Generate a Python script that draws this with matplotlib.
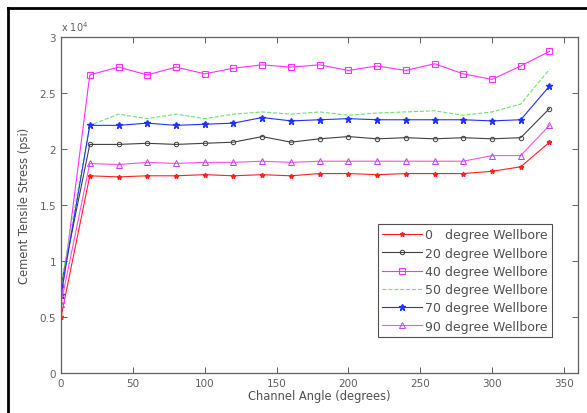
import numpy as np
import matplotlib
matplotlib.use('Agg')
import matplotlib.pyplot as plt
from matplotlib.lines import Line2D

# channel angle (degrees)
angle = [0, 20, 40, 60, 80, 100, 120, 140, 160, 180, 200, 220, 240, 260, 280, 300, 320, 340]

# cement tensile stress, x 10^4 psi
wb_0 = [0.50, 1.76, 1.75, 1.76, 1.76, 1.77, 1.76, 1.77, 1.76, 1.78, 1.78, 1.77, 1.78, 1.78, 1.78, 1.80, 1.84, 2.06]
wb_20 = [0.78, 2.04, 2.04, 2.05, 2.04, 2.05, 2.06, 2.11, 2.06, 2.09, 2.11, 2.09, 2.10, 2.09, 2.10, 2.09, 2.10, 2.36]
wb_40 = [0.65, 2.66, 2.73, 2.66, 2.73, 2.67, 2.72, 2.75, 2.73, 2.75, 2.70, 2.74, 2.70, 2.76, 2.67, 2.62, 2.74, 2.87]
wb_50 = [0.80, 2.21, 2.31, 2.27, 2.31, 2.27, 2.31, 2.33, 2.31, 2.33, 2.30, 2.32, 2.33, 2.34, 2.30, 2.33, 2.40, 2.71]
wb_70 = [0.70, 2.21, 2.21, 2.23, 2.21, 2.22, 2.23, 2.28, 2.25, 2.26, 2.27, 2.26, 2.26, 2.26, 2.26, 2.25, 2.26, 2.56]
wb_90 = [0.62, 1.87, 1.86, 1.88, 1.87, 1.88, 1.88, 1.89, 1.88, 1.89, 1.89, 1.89, 1.89, 1.89, 1.89, 1.94, 1.94, 2.21]

labels = ['0   degree Wellbore', '20 degree Wellbore', '40 degree Wellbore',
          '50 degree Wellbore', '70 degree Wellbore', '90 degree Wellbore']

fig = plt.figure(figsize=(5.87, 4.14), dpi=100)
ax = fig.add_axes([0.104, 0.0966, 0.881, 0.812])

ax.plot(angle, wb_0, '-*', color='#ff2020', lw=0.8, ms=3.5, label=labels[0])
ax.plot(angle, wb_20, '-o', color='#404040', lw=0.8, ms=3.2, mfc='none', mew=0.7, label=labels[1])
ax.plot(angle, wb_40, '-s', color='#ff30ff', lw=0.8, ms=5, mfc='none', mew=0.8, label=labels[2])
ax.plot(angle, wb_50, '--', color='#70e070', lw=0.8, label=labels[3])
ax.plot(angle, wb_70, '-*', color='#2030ff', lw=0.8, ms=4.5, label=labels[4])
ax.plot(angle, wb_90, '-^', color='#ff50e0', lw=0.8, ms=4, mfc='none', mew=0.7,
        mec='#c040ff', label=labels[5])

ax.set_xlim(0, 360)
ax.set_ylim(0, 3)
ax.set_xticks(np.arange(0, 351, 50))
ax.set_yticks([0, 0.5, 1, 1.5, 2, 2.5, 3])
ax.set_yticklabels(['0', '0.5', '1', '1.5', '2', '2.5', '3'])
ax.tick_params(direction='in', top=True, right=True, labelsize=7.5,
               colors='#606060', length=4, width=0.7)
for sp in ax.spines.values():
    sp.set_color('#606060')
    sp.set_linewidth(0.9)

ax.set_xlabel('Channel Angle (degrees)', fontsize=8.3, color='#505050', labelpad=1)
ax.set_ylabel('Cement Tensile Stress (psi)', fontsize=8.3, color='#505050', labelpad=6)
ax.text(0.0, 1.012, 'x 10$^4$', transform=ax.transAxes, fontsize=7,
        color='#606060', ha='left', va='bottom')

leg = ax.legend(loc='lower right', bbox_to_anchor=(0.95, 0.107), fontsize=9,
                fancybox=False, framealpha=1, edgecolor='#505050',
                borderaxespad=0, handlelength=3.2, labelspacing=0.42,
                borderpad=0.35, handletextpad=0.25)
leg.get_frame().set_linewidth(0.8)
for t in leg.get_texts():
    t.set_color('#505050')

# outer frame (left and top only, as cropped)
fig.add_artist(Line2D([8 / 587, 8 / 587], [0, 1 - 9 / 414], color='black', lw=2,
                      transform=fig.transFigure))
fig.add_artist(Line2D([8 / 587, 1], [1 - 9 / 414, 1 - 9 / 414], color='black', lw=2,
                      transform=fig.transFigure))

plt.savefig('out.png', dpi=100, facecolor='white')
plt.close()
